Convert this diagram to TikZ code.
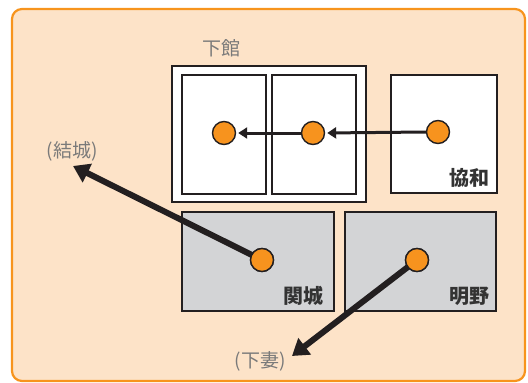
\documentclass[tikz,border=0pt]{standalone}
\usepackage{fontspec}
\newfontfamily\cjk{Noto Sans CJK JP}
\usetikzlibrary{arrows.meta}
\definecolor{bgfill}{HTML}{FDE3C8}
\definecolor{framec}{HTML}{F7941D}
\definecolor{dotc}{HTML}{F7931E}
\definecolor{boxgray}{HTML}{D3D4D6}
\definecolor{linec}{HTML}{231F20}
\definecolor{labgray}{HTML}{7A7A7A}
\definecolor{labdark}{HTML}{333333}
\tikzset{
  frame/.style={draw=framec, line width=2.2pt, fill=bgfill, rounded corners=10pt},
  whitebox/.style={draw=linec, line width=1.6pt, fill=white},
  graybox/.style={draw=linec, line width=1.6pt, fill=boxgray},
  dot/.style={circle, draw=linec, line width=1.4pt, fill=dotc, minimum size=23pt, inner sep=0pt},
  thinarrow/.style={draw=linec, line width=3pt, -{Triangle[length=9pt,width=11pt]}, shorten >=2pt},
  thickarrow/.style={draw=linec, line width=6pt, -{Triangle[length=16pt,width=20pt]}},
  glabel/.style={text=labgray, font=\cjk\fontsize{19}{19}\selectfont, inner sep=0pt},
  dlabel/.style={text=labdark, font=\cjk\bfseries\fontsize{20}{20}\selectfont, inner sep=0pt}
}
\begin{document}
\begin{tikzpicture}[x=1pt,y=-1pt]
\useasboundingbox (0,0) rectangle (528,383);
\path[frame] (12,9) rectangle (525,381);
% Shimodate
\path[whitebox] (172,66) rectangle (366,202);
\path[whitebox] (182,75) rectangle (266,194);
\path[whitebox] (272,75) rectangle (356,194);
\path[whitebox] (391,75) rectangle (497,193);
\path[graybox] (182,212) rectangle (334,311);
\path[graybox] (345,212) rectangle (496,311);
% labels
\node[glabel] (lshim) at (221,48) {下館};
\node[dlabel] (lkyo) at (469,178) {協和};
\node[dlabel] (lsek) at (303,296) {関城};
\node[dlabel] (lake) at (469,296) {明野};
\node[glabel] (lyuki) at (72,151) {(結城)};
\node[glabel] (lshimo) at (260,361) {(下妻)};
% free ends
\coordinate (tyuki) at (73,166);
\coordinate (tshimo) at (292,356);
% dots
\node[dot] (d1) at (224,133) {};
\node[dot] (d2) at (313,133) {};
\node[dot] (d3) at (438,132) {};
\node[dot] (d4) at (262,260) {};
\node[dot] (d5) at (417,260) {};
\draw[thinarrow] (d3.west) -- (d2.east);
\draw[thinarrow] (d2.west) -- (d1.east);
\draw[thickarrow] (d4.center) -- (tyuki);
\draw[thickarrow] (d5.center) -- (tshimo);
\node[dot] at (d4) {};
\node[dot] at (d5) {};
\end{tikzpicture}
\end{document}
